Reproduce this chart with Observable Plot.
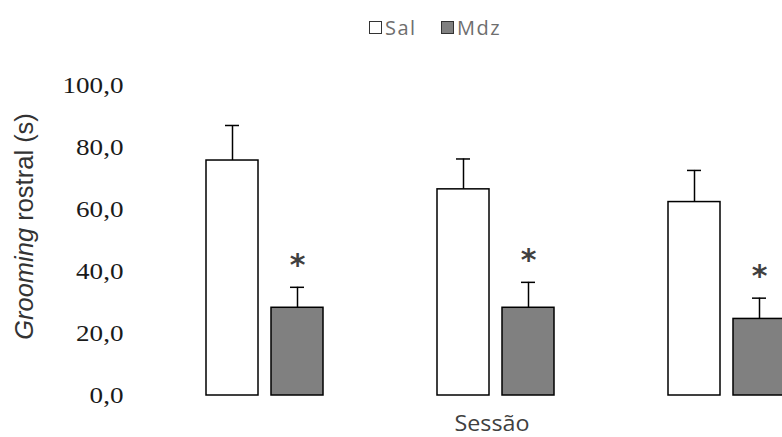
<!DOCTYPE html>
<html>
<head>
<meta charset="utf-8">
<script src="https://cdn.jsdelivr.net/npm/d3@7"></script>
<script src="https://cdn.jsdelivr.net/npm/@observablehq/plot@0.6"></script>
<style>
  html, body { margin: 0; padding: 0; background: #fff; overflow: hidden; }
  #wrap { position: relative; width: 782px; height: 437px; }
  #legend {
    position: absolute; left: 0; top: 0; width: 782px; height: 60px;
    font-family: "Open Sans", sans-serif; font-size: 20px; color: #6e6e6e;
  }
  #legend .item { position: absolute; top: 14px; display: flex; align-items: center; }
  #legend .swatch { width: 11px; height: 11px; border: 1.5px solid #333; margin-right: 3px; }
  #legend span { letter-spacing: 1.5px; }
</style>
</head>
<body>
<div id="wrap">
  <div id="chart"></div>
  <div id="legend"></div>
</div>
<script>
// Rostral grooming time (s) per session, mean and SEM, saline vs midazolam
const sessions = ["1", "2", "3"];
const groups = ["Sal", "Mdz"];
const salMean = [75.8, 66.5, 62.4];
const salSem = [11.3, 9.8, 10.2];
const mdzMean = [28.3, 28.3, 24.7];
const mdzSem = [6.6, 8.2, 6.7];
const mdzSignificant = [true, true, true];
const yTicks = [0, 20, 40, 60, 80, 100];
const groupFill = ["#ffffff", "#808080"];
const legendLeft = [369, 441];

const rows = [];
sessions.forEach((s, i) => {
  rows.push({session: s, group: "Sal", mean: salMean[i], sem: salSem[i], sig: false});
  rows.push({session: s, group: "Mdz", mean: mdzMean[i], sem: mdzSem[i], sig: mdzSignificant[i]});
});

const fmt = d => d3.format(".1f")(d).replace(".", ",");

const chart = Plot.plot({
  width: 782,
  height: 437,
  marginLeft: 149,
  marginRight: -60.5,
  marginTop: 85,
  marginBottom: 42,
  style: {background: "transparent"},
  fx: {domain: sessions, padding: 0, axis: null},
  x: {domain: groups, paddingInner: 0.206, paddingOuter: 0.866, axis: null},
  y: {domain: [0, 100], label: null},
  color: {domain: groups, range: groupFill},
  marks: [
    Plot.axisY({
      ticks: yTicks, tickFormat: fmt, tickSize: 0, tickPadding: 26, label: null,
      fontFamily: "Liberation Serif", fontSize: 24, fill: "#1a1a1a"
    }),
    Plot.ruleX(rows, {
      fx: "session", x: "group", y1: "mean", y2: d => d.mean + d.sem,
      stroke: "#000", strokeWidth: 1.5
    }),
    Plot.tickY(rows, {
      fx: "session", x: "group", y: d => d.mean + d.sem,
      stroke: "#000", strokeWidth: 1.5, inset: 19
    }),
    Plot.barY(rows, {
      fx: "session", x: "group", y: "mean", fill: "group",
      stroke: "#000", strokeWidth: 1.5
    }),
    Plot.text(rows.filter(d => d.sig), {
      fx: "session", x: "group", y: d => d.mean + d.sem, text: () => "*",
      dy: -22, fontSize: 30, fontWeight: "bold", fontFamily: "DejaVu Sans",
      fill: "#404040", lineAnchor: "middle"
    })
  ]
});

document.getElementById("chart").appendChild(chart);

const svg = d3.select(chart);

// Slightly widened serif tick labels, kept right-aligned
svg.selectAll('g[aria-label="y-axis tick label"] text').each(function() {
  const t = d3.select(this);
  const tr = t.attr("transform") || "";
  t.attr("transform", `${tr} scale(1.13,1)`);
});

// Axis titles
const yTitle = svg.append("text")
  .attr("transform", "translate(24,226.5) rotate(-90)")
  .attr("text-anchor", "middle")
  .attr("dominant-baseline", "central")
  .attr("font-family", "Liberation Sans")
  .attr("font-size", 25.5)
  .attr("fill", "#333");
yTitle.append("tspan").attr("font-style", "italic").text("Grooming");
yTitle.append("tspan").text(" rostral (s)");

svg.append("text")
  .attr("x", 492).attr("y", 431)
  .attr("text-anchor", "middle")
  .attr("textLength", 75)
  .attr("lengthAdjust", "spacingAndGlyphs")
  .attr("font-family", "Open Sans")
  .attr("font-size", 21)
  .attr("fill", "#404040")
  .text("Sessão");

// Legend
const legend = d3.select("#legend");
groups.forEach((g, i) => {
  const item = legend.append("div").attr("class", "item").style("left", legendLeft[i] + "px");
  item.append("div").attr("class", "swatch").style("background", groupFill[i]);
  item.append("span").text(g);
});
</script>
</body>
</html>
